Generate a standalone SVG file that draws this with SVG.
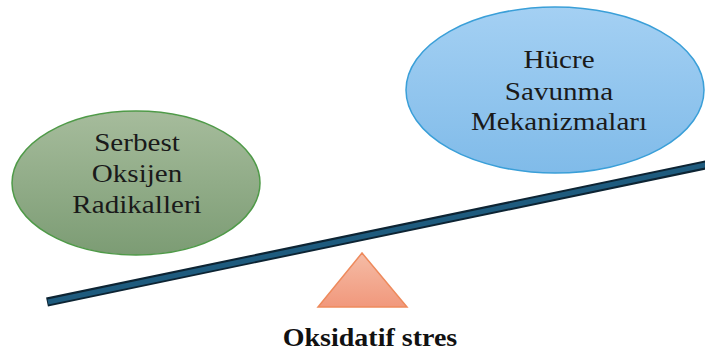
<svg xmlns="http://www.w3.org/2000/svg" width="705" height="354" viewBox="0 0 705 354">
<defs>
<linearGradient id="gGreen" x1="0" y1="0" x2="0" y2="1">
<stop offset="0" stop-color="#a6bc9c"/>
<stop offset="1" stop-color="#7c9c74"/>
</linearGradient>
<linearGradient id="gBlue" x1="0" y1="0" x2="0" y2="1">
<stop offset="0" stop-color="#a4d0f3"/>
<stop offset="1" stop-color="#80bbe9"/>
</linearGradient>
<linearGradient id="gTri" x1="0" y1="0" x2="0" y2="1">
<stop offset="0" stop-color="#f5bca6"/>
<stop offset="1" stop-color="#f1987c"/>
</linearGradient>
<style>
.lbl{font-family:"Liberation Serif","Times New Roman",serif;font-size:26px;fill:#1a1a1a;text-anchor:middle}
.cap{font-family:"Liberation Serif","Times New Roman",serif;font-size:25px;font-weight:bold;fill:#111;text-anchor:middle}
</style>
</defs>
<rect width="705" height="354" fill="#fff"/>
<g id="node-serbest">
<ellipse cx="136" cy="183" rx="124" ry="72" fill="url(#gGreen)" stroke="#4f9a48" stroke-width="1.5"/>
<g transform="translate(137,0) scale(1.12,1)">
<text class="lbl" x="0" y="151">Serbest</text>
<text class="lbl" x="0" y="182">Oksijen</text>
<text class="lbl" x="0" y="213">Radikalleri</text>
</g>
</g>
<g id="node-hucre">
<ellipse cx="555" cy="90" rx="149" ry="83" fill="url(#gBlue)" stroke="#3a9fd8" stroke-width="1.5"/>
<g transform="translate(559,0) scale(1.12,1)">
<text class="lbl" x="0" y="68">Hücre</text>
<text class="lbl" x="0" y="100">Savunma</text>
<text class="lbl" x="0" y="130">Mekanizmaları</text>
</g>
</g>
<g id="connectors">
<line x1="47" y1="302" x2="710" y2="164" stroke="#0d2433" stroke-width="9"/>
<line x1="48" y1="302" x2="710" y2="164" stroke="#1e5b7e" stroke-width="5"/>
</g>
<g id="node-fulcrum">
<polygon points="362,253 318,307 407,307" fill="url(#gTri)" stroke="#ee8a5c" stroke-width="1.5"/>
</g>
<g id="node-label">
<g transform="translate(370,0) scale(1.12,1)">
<text class="cap" x="0" y="346">Oksidatif stres</text>
</g>
</g>
</svg>
